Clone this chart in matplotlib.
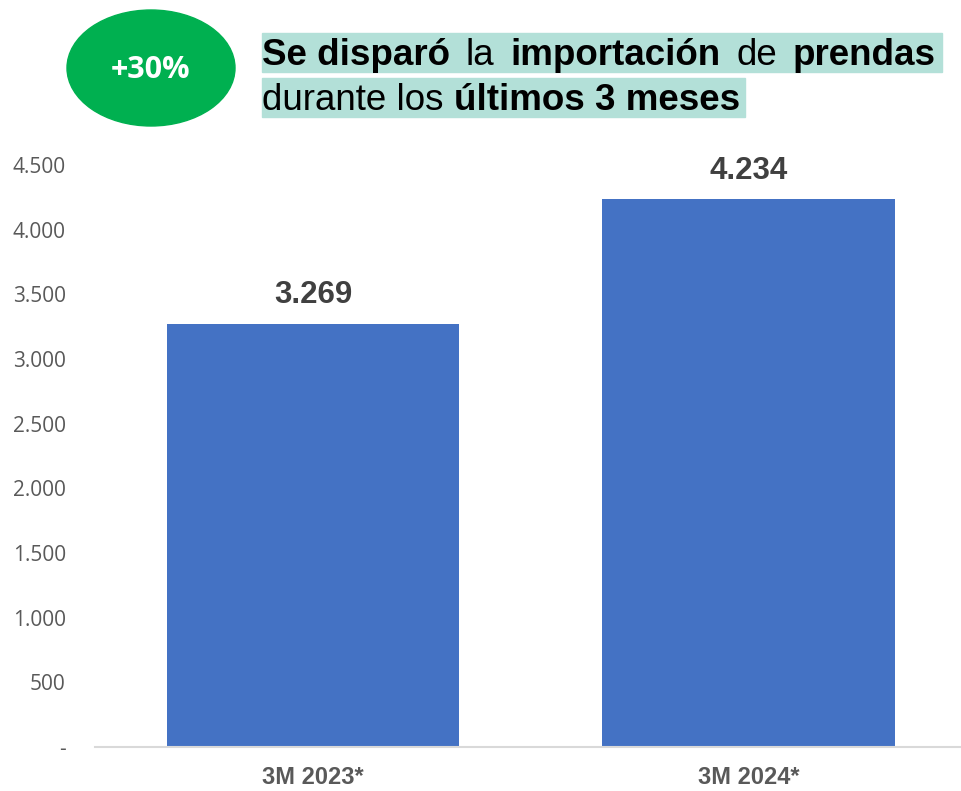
import matplotlib
matplotlib.use("Agg")
import matplotlib.pyplot as plt
from matplotlib.patches import Ellipse, Rectangle

categorias = ["3M 2023*", "3M 2024*"]
valores = [3269, 4234]
ticks = [0, 500, 1000, 1500, 2000, 2500, 3000, 3500, 4000, 4500]
etiquetas_y = ["-", "500", "1.000", "1.500", "2.000", "2.500", "3.000", "3.500", "4.000", "4.500"]
etiquetas_barras = ["3.269", "4.234"]
linea1 = [("Se disparó", True), ("la", False), ("importación", True), ("de", False), ("prendas", True)]
linea2 = [("durante los ", False), ("últimos 3 meses", True)]

W, H = 961, 791
fig = plt.figure(figsize=(W / 100, H / 100), dpi=100)
ax = fig.add_axes([95 / W, 1 - 747 / H, 865 / W, (747 - 165) / H])

x = range(len(categorias))
ax.bar(x, valores, width=0.672, color="#4472c4", zorder=2)
ax.set_xlim(-0.5, 1.484)
ax.set_ylim(0, 4500)
ax.set_yticks(ticks)
ax.set_yticklabels(etiquetas_y, fontfamily="Open Sans", fontsize=15, color="#595959")
ax.set_xticks(list(x))
ax.set_xticklabels(categorias, fontfamily="Liberation Sans", fontweight="bold",
                   fontsize=17, color="#595959")
ax.tick_params(axis="y", length=0, pad=21)
ax.tick_params(axis="x", length=0, pad=14)
for s in ["top", "right", "left"]:
    ax.spines[s].set_visible(False)
ax.spines["bottom"].set_color("#d9d9d9")
ax.spines["bottom"].set_linewidth(1.5)

for i, v in enumerate(valores):
    ax.annotate(etiquetas_barras[i], (i, v), xytext=(0, 10), textcoords="offset points",
                ha="center", va="bottom", fontfamily="Liberation Sans", fontweight="bold",
                fontsize=22.5, color="#404040")

# green badge
fig.patches.append(Ellipse((151 / W, 1 - 68 / H), 168 / W, 116 / H, color="#00b050",
                           transform=fig.transFigure, figure=fig))
fig.text(151 / W, 1 - 70 / H, "+30%", ha="center", va="center", color="white",
         fontfamily="Open Sans", fontweight="bold", fontsize=22)

# title with highlighted lines
renderer = fig.canvas.get_renderer()
TS = 26.5


def escribir(partes, x0, ybase, fondo, fin=None):
    textos = []
    for texto, negrita in partes:
        t = fig.text(x0 / W, 1 - ybase / H, texto, ha="left", va="baseline",
                     fontfamily="Liberation Sans", fontweight="bold" if negrita else "normal",
                     fontsize=TS, color="black", zorder=5)
        textos.append(t)
    anchos = [t.get_window_extent(renderer).width for t in textos]
    hueco = 0
    if fin is not None and len(textos) > 1:
        hueco = (fin - x0 - sum(anchos)) / (len(textos) - 1)
    xx = x0
    for t, a in zip(textos, anchos):
        t.set_x(xx / W)
        xx += a + hueco
    x1, y0, y1 = fondo
    fig.patches.append(Rectangle((x0 / W, 1 - y1 / H), (x1 - x0) / W, (y1 - y0) / H,
                                 color="#b3e0d8", transform=fig.transFigure, figure=fig, zorder=1))


escribir(linea1, 262, 65, (942, 33, 72), fin=936)
escribir(linea2, 262, 110, (745, 78, 117))

fig.savefig("out.png", dpi=100)
